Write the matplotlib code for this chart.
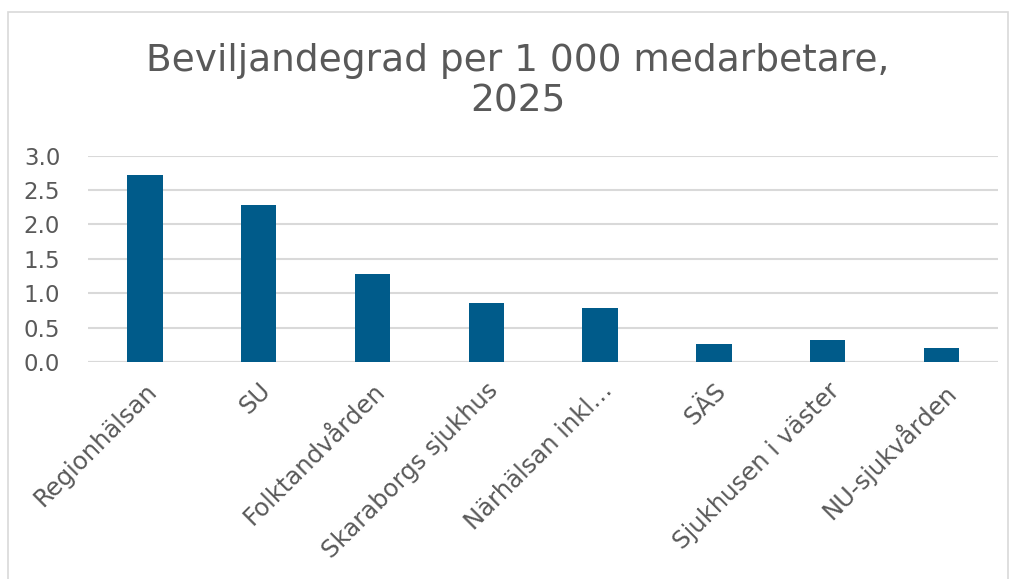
import matplotlib
matplotlib.use("Agg")
import matplotlib.pyplot as plt
import numpy as np
from matplotlib.patches import Rectangle

categories = ["Regionhälsan", "SU", "Folktandvården", "Skaraborgs sjukhus",
              "Närhälsan inkl…", "SÄS", "Sjukhusen i väster", "NU-sjukvården"]
values = [2.72, 2.29, 1.28, 0.86, 0.79, 0.26, 0.32, 0.20]
yticks = [0.0, 0.5, 1.0, 1.5, 2.0, 2.5, 3.0]

text_color = "#595959"
bar_color = "#005B8A"
grid_color = "#D9D9D9"

plt.rcParams['font.family'] = ['DejaVu Sans']

fig = plt.figure(figsize=(10.15, 5.79), dpi=100)
ax = fig.add_axes([0.0867, 0.375, 0.897, 0.356])

x = np.arange(len(categories))
ax.bar(x, values, width=0.31, color=bar_color, zorder=3)

ax.set_xlim(-0.5, len(categories) - 0.5)
ax.set_ylim(0, 3.0)
ax.set_yticks(yticks)
ax.set_yticklabels([f"{t:.1f}" for t in yticks], fontsize=16.5, color=text_color)
ax.set_xticks(x)
ax.set_xticklabels(categories, rotation=45, ha='right', va='top',
                   rotation_mode='anchor', fontsize=17.5, color=text_color)
ax.tick_params(axis='both', length=0)
ax.tick_params(axis='y', pad=20)
ax.tick_params(axis='x', pad=12)

ax.yaxis.grid(True, color=grid_color, linewidth=1.5, zorder=0)
ax.set_axisbelow(True)
for s in ax.spines.values():
    s.set_visible(False)
ax.axhline(0, color=grid_color, linewidth=1.5, zorder=1)

fig.text(0.51, 0.86, "Beviljandegrad per 1 000 medarbetare,\n2025",
         ha='center', va='center', fontsize=27, color=text_color, linespacing=1.15)

fig.patches.append(Rectangle((0.008, -0.01), 0.985, 0.99, transform=fig.transFigure,
                             fill=False, edgecolor="#D9D9D9", linewidth=1.2))

fig.savefig("out.png", dpi=100)
